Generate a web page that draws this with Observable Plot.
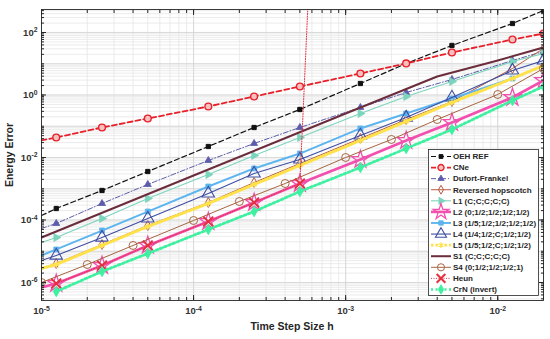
<!DOCTYPE html>
<html><head><meta charset="utf-8">
<script src="https://cdn.jsdelivr.net/npm/d3@7"></script>
<script src="https://cdn.jsdelivr.net/npm/@observablehq/plot@0.6"></script>
<style>
body{margin:0;background:#fff;}
#chart{position:relative;width:550px;height:339px;}
svg{font-family:"Liberation Sans",Arial,sans-serif;}
</style>
</head><body><div id="chart"></div>
<script>
// ---- step sizes (x values) ----
const hA = [1e-5,1.25e-5,2.5e-5,5e-5,1.25e-4,2.5e-4,5e-4,1.25e-3,2.5e-3,5e-3,1.25e-2,2e-2];
const hB = [1.25e-5,2.5e-5,5e-5,1.25e-4,2.5e-4,5e-4,1.25e-3,2.5e-3,5e-3,1.25e-2,2e-2];
const hS4 = [1e-5,2e-5,4e-5,1e-4,2e-4,4e-4,1e-3,2e-3,4e-3,1e-2,2e-2];
const hS1 = [1e-5,1e-4,1e-3,4e-3,1e-2,2e-2];
const hHeun = [1.25e-5,2.5e-5,5e-5,1.25e-4,2.5e-4,5e-4,1.25e-3];

// ---- energy errors (y values) ----
const eOEH  = [1.39e-4,2.33e-4,8.8e-4,3.56e-3,0.0225,0.0912,0.344,2.33,10.2,38.4,194,506];
const eCNe  = [0.035,0.0437,0.0912,0.177,0.429,0.895,1.87,4.88,10.2,22.9,59.7,92.9];
const eDF   = [5.35e-5,7.73e-5,3.37e-4,1.37e-3,8.0e-3,0.0281,0.0912,0.398,1.2,3.13,12.7,24.7];
const eRH   = [2.81e-6,4.06e-6,1.64e-5,6.67e-5,3.63e-4,1.58e-3,6.43e-3,0.0406,0.164,0.619,7.05,30.8];
const eL1   = [1.905e-5,2.75e-5,1.117e-4,4.88e-4,2.86e-3,0.0116,0.0437,0.256,0.895,2.7,11.8,21.3];
const eL2   = [6.92e-7,9.29e-7,3.5e-6,1.53e-5,8.95e-5,3.63e-4,1.47e-3,8.63e-3,0.035,0.132,0.832,2.91];
const eL3   = [7.31e-6,1.14e-5,4.61e-5,1.87e-4,1.18e-3,4.45e-3,0.0134,0.0847,0.256,0.773,3.37,8.79];
const eL4   = [5.06e-6,7.31e-6,2.75e-5,1.117e-4,7.05e-4,3.08e-3,8.63e-3,0.0506,0.19,0.832,6.08,12.7];
const eL5   = [2.81e-6,3.77e-6,1.53e-5,6.19e-5,3.37e-4,1.37e-3,5.55e-3,0.035,0.142,0.575,3.37,8.79];
const eS1   = [2.75e-5,2.65e-3,0.256,3.91,12.7,33.1];
const eS4   = [1.0e-6,3.77e-6,1.53e-5,9.64e-5,3.91e-4,1.47e-3,0.01,0.0377,0.164,1.04,7.05];
const eHeun = [9.29e-7,3.5e-6,1.53e-5,8.95e-5,3.63e-4,1.47e-3,1e40];
const eCrN  = [5.15e-7,2.25e-6,8.47e-6,4.97e-5,1.87e-4,8.17e-4,4.79e-3,0.0194,0.0787,0.667,1.87];

const names = ["OEH REF","CNe","Dufort-Frankel","Reversed hopscotch","L1 (C;C;C;C;C)",
  "L2 (0;1/2;1/2;1/2;1/2)","L3 (1/5;1/2;1/2;1/2;1/2)","L4 (1/4;1/2;C;1/2;1/2)",
  "L5 (1/5;1/2;C;1/2;1/2)","S1 (C;C;C;C;C)","S4 (0;1/2;1/2;1/2;1)","Heun","CrN (invert)"];

const series = [
  {h:hA, e:eOEH, color:"#111", w:1.2, dash:"5,3", sym:"square", r:2.4, fill:"#111", sw:1, skip:1},
  {h:hA, e:eCNe, color:"#e8202a", w:1.8, dash:"5,3", sym:"circle", r:3.4, fill:"#f6c0c0", sw:1.4, skip:1},
  {h:hA, e:eDF, color:"#5c5caa", w:1, dash:"5,2,1,2", sym:"triangle", r:2.6, fill:"#5c5caa", sw:0.8, skip:1},
  {h:hA, e:eRH, color:"#b65a3e", w:1, dash:null, sym:"diamond", r:3, fill:"none", sw:1, skip:1},
  {h:hA, e:eL1, color:"#7dd4bd", w:1.1, dash:null, sym:"triangle", rot:90, r:3, fill:"#7dd4bd", sw:0.8, skip:1},
  {h:hA, e:eL2, color:"#f24fae", w:2.6, dash:null, sym:"star", r:5.5, fill:"none", sw:1.3, skip:1},
  {h:hA, e:eL3, color:"#5db5ef", w:1.9, dash:null, sym:"square", r:2.8, fill:"#5db5ef", sw:0.8, skip:1},
  {h:hA, e:eL4, color:"#3f4ea2", w:1.1, dash:null, sym:"triangle", r:4.6, fill:"none", sw:1.1, skip:1},
  {h:hA, e:eL5, color:"#ffe14a", w:3, dash:"2.5,2", sym:"asterisk", r:3, fill:"none", sw:1.2, skip:1},
  {h:hS1, e:eS1, color:"#6b2c3c", w:2, dash:null, sym:null},
  {h:hS4, e:eS4, color:"#a8643f", w:1, dash:null, sym:"circle", r:4, fill:"none", sw:1, skip:0},
  {h:hHeun, e:eHeun, color:"#e33040", w:1, dash:"1,1.5", sym:"times", r:4.5, fill:"none", sw:2, skip:0},
  {h:hB, e:eCrN, color:"#3ef0a0", w:2.8, dash:"2,2.5", sym:"diamond", r:3.2, fill:"#3ef0a0", sw:0.8, skip:0}
];

const xDomain = [1e-5, 2e-2];
const yDomain = [2.655e-7, 544];
const xLabels = [1e-5,1e-4,1e-3,1e-2];
const yLabels = [1e-6,1e-4,1e-2,1,1e2];

// grid positions from decades
const xMinor = [], yMinor = [], yDec = [];
for (let k=-5;k<=-2;k++) for (let m=1;m<=9;m++){const v=m*10**k; if(v>=xDomain[0]&&v<=xDomain[1]) xMinor.push(v);}
for (let k=-7;k<=2;k++){ if(10**k>=yDomain[0]) yDec.push(10**k); for (let m=1;m<=9;m++){const v=m*10**k; if(v>=yDomain[0]&&v<=yDomain[1]) yMinor.push(v);} }

const marks = [
  Plot.ruleX(xMinor, {x:d=>d, stroke:"#e6e6e6", strokeWidth:0.8}),
  Plot.ruleY(yMinor, {y:d=>d, stroke:"#e6e6e6", strokeWidth:0.8}),
  Plot.ruleX(xLabels, {x:d=>d, stroke:"#d4d4d4", strokeWidth:0.8}),
  Plot.ruleY(yDec, {y:d=>d, stroke:"#d4d4d4", strokeWidth:0.8}),
];
series.forEach(s => {
  const rows = s.h.map((h,i)=>({h, e:s.e[i], i}));
  marks.push(Plot.line(rows, {x:"h", y:"e", stroke:s.color, strokeWidth:s.w, strokeDasharray:s.dash, clip:true}));
  if (s.sym) {
    const mrows = rows.filter(d=>d.i>=s.skip);
    const isStroke = ["times","asterisk"].includes(s.sym);
    marks.push(Plot.dot(mrows, {x:"h", y:"e", symbol:s.sym, r:s.r, rotate:s.rot||0,
      fill: isStroke? "none" : s.fill, stroke:s.color, strokeWidth:s.sw, clip:true}));
  }
});
const fmt = d => "10^" + Math.round(Math.log10(d));
const tk = {stroke:"#262626", fill:"none", label:null};
marks.push(
  Plot.axisX({anchor:"bottom", ticks:xMinor, tickSize:-3, ...tk}),
  Plot.axisX({anchor:"top", ticks:xMinor, tickSize:-3, ...tk}),
  Plot.axisX({anchor:"top", ticks:xLabels, tickSize:-5, ...tk}),
  Plot.axisX({anchor:"bottom", ticks:xLabels, tickSize:-5, tickPadding:12, tickFormat:fmt, label:null, fontSize:9.5, fontWeight:"bold", fill:"#333", stroke:"#262626"}),
  Plot.axisY({anchor:"left", ticks:yMinor, tickSize:-3, ...tk}),
  Plot.axisY({anchor:"right", ticks:yMinor, tickSize:-3, ...tk}),
  Plot.axisY({anchor:"right", ticks:yLabels, tickSize:-5, ...tk}),
  Plot.axisY({anchor:"left", ticks:yLabels, tickSize:-5, tickPadding:9, tickFormat:fmt, label:null, fontSize:9.5, fontWeight:"bold", fill:"#333", stroke:"#262626"}),
  Plot.frame({stroke:"#262626", strokeWidth:0.9})
);

const chart = Plot.plot({
  width:550, height:339,
  marginLeft:41, marginRight:7, marginTop:9, marginBottom:39,
  x:{type:"log", domain:xDomain},
  y:{type:"log", domain:yDomain},
  style:{fontFamily:"'Liberation Sans', Arial, sans-serif", background:"#fff"},
  marks
});
document.getElementById("chart").appendChild(chart);

const svg = d3.select(chart);
// superscript tick labels
svg.selectAll("text").each(function(){
  const t = d3.select(this);
  const s = this.textContent;
  if (/^10\^/.test(s)) {
    const ex = s.slice(3);
    t.text("10");
    t.append("tspan").attr("dy","-0.5em").attr("font-size","0.72em").text(ex);
  }
});
// axis titles
svg.append("text").attr("x",292).attr("y",330).attr("text-anchor","middle")
  .attr("font-size",10.5).attr("font-weight","bold").attr("fill","#262626").text("Time Step Size h");
svg.append("text").attr("transform","translate(13,155) rotate(-90)").attr("text-anchor","middle")
  .attr("font-size",10.5).attr("font-weight","bold").attr("fill","#262626").text("Energy Error");

// legend
const lg = svg.append("g");
lg.append("rect").attr("x",428.5).attr("y",149.5).attr("width",110).attr("height",146)
  .attr("fill","#fff").attr("stroke","#262626").attr("stroke-width",0.8);
const symMap = {square:d3.symbolSquare, circle:d3.symbolCircle, triangle:d3.symbolTriangle,
  diamond:d3.symbolDiamond, star:d3.symbolStar, asterisk:d3.symbolAsterisk, times:d3.symbolTimes};
series.forEach((s,i)=>{
  const y = 156.5 + i*11.08;
  lg.append("line").attr("x1",431).attr("x2",451).attr("y1",y).attr("y2",y)
    .attr("stroke",s.color).attr("stroke-width",Math.min(s.w,2.6)).attr("stroke-dasharray",s.dash);
  if (s.sym) {
    const isStroke = ["times","asterisk"].includes(s.sym);
    lg.append("path").attr("d", d3.symbol(symMap[s.sym], Math.PI*s.r*s.r*0.8)())
      .attr("transform",`translate(441,${y}) rotate(${s.rot||0})`)
      .attr("fill", isStroke?"none":s.fill).attr("stroke",s.color).attr("stroke-width",s.sw);
  }
  lg.append("text").attr("x",453).attr("y",y).attr("dy","0.35em").attr("font-size",8)
    .attr("text-anchor","start").attr("font-weight","bold").attr("fill","#262626").text(names[i]);
});
</script>
</body></html>
